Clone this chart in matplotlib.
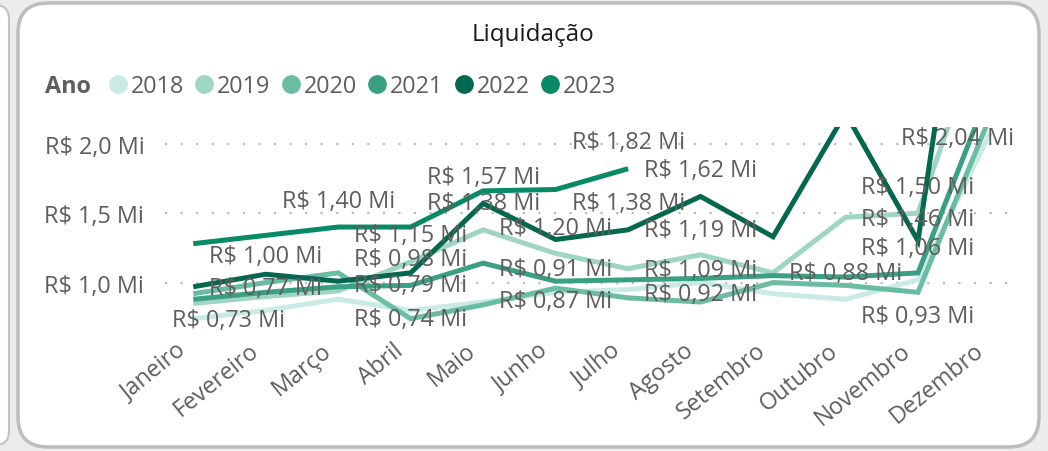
import numpy as np
import matplotlib
matplotlib.use('Agg')
import matplotlib.pyplot as plt
from matplotlib.lines import Line2D
from matplotlib.patches import FancyBboxPatch
from matplotlib.transforms import IdentityTransform, offset_copy

# data (R$ millions)
months = ['Janeiro', 'Fevereiro', 'Março', 'Abril', 'Maio', 'Junho', 'Julho',
          'Agosto', 'Setembro', 'Outubro', 'Novembro', 'Dezembro']
years  = ['2018', '2019', '2020', '2021', '2022', '2023']

v2018 = [0.74, 0.80, 0.88, 0.80, 0.86, 0.93, 0.95, 1.00, 0.92, 0.88, 1.02, 2.08]
v2019 = [0.85, 0.90, 0.94, 1.15, 1.38, 1.21, 1.10, 1.20, 1.07, 1.47, 1.50, 3.00]
v2020 = [0.92, 1.00, 1.07, 0.74, 0.84, 0.96, 0.89, 0.86, 1.00, 0.98, 0.93, 2.20]
v2021 = [0.88, 0.93, 0.97, 0.98, 1.14, 1.01, 1.02, 1.03, 1.05, 1.04, 1.07, 2.40]
v2022 = [0.97, 1.06, 1.01, 1.07, 1.57, 1.31, 1.38, 1.62, 1.33, 2.22, 1.30, 4.80]
v2023 = [1.28, 1.34, 1.40, 1.40, 1.66, 1.67, 1.82]

# data labels shown on the chart: month index, value, placement
labelMonth = [0, 1, 1, 2, 3, 3, 3, 3, 4, 4, 5, 5, 5, 6, 6, 7, 7, 7, 7, 9, 10, 10, 10, 10, 11]
labelValue = [0.73, 1.00, 0.77, 1.40, 1.15, 0.98, 0.79, 0.74, 1.57, 1.38, 1.20, 0.91, 0.87,
              1.82, 1.38, 1.62, 1.19, 1.09, 0.92, 0.88, 1.50, 1.46, 1.06, 0.93, 2.04]
labelPlace = ['c', 'a', 'a', 'a', 'a', 'a', 'a', 'c', 'a', 'a', 'a', 'a', 'c',
              'a', 'a', 'a', 'a', 'c', 'c', 'a', 'a', 'c', 'a', 'b', 'c']

yTicks = [1.0, 1.5, 2.0]

series = [v2018, v2019, v2020, v2021, v2022, v2023]
colors = ['#C9EAE7', '#9FD5C3', '#6ABCA3', '#3AA085', '#04674F', '#078A68']

greyTxt  = '#605E5C'
fontFam  = ['Open Sans', 'DejaVu Sans']
fontSZ   = 16.8
lineWgt  = 3.6

plt.rcParams['font.family'] = fontFam

fig = plt.figure(figsize=(10.48, 4.52), dpi=100)
fig.patch.set_facecolor('#ECECEC')

# card backgrounds (pixel coords)
fig.patches.append(FancyBboxPatch((-40, 6), 49, 440, boxstyle='round,pad=0,rounding_size=14',
                                  transform=IdentityTransform(), facecolor='white',
                                  edgecolor='#C4C4C4', linewidth=1.5, zorder=-10))
fig.patches.append(FancyBboxPatch((18, 4), 1021, 444, boxstyle='round,pad=0,rounding_size=30',
                                  transform=IdentityTransform(), facecolor='white',
                                  edgecolor='#BDBDBD', linewidth=2.5, zorder=-10))

ax = fig.add_axes([165/1048., 1-335/452., (1018-165)/1048., (335-128)/452.])
ax.set_facecolor('none')
ax.set_zorder(1)

x = np.arange(len(months))
for vals, col in zip(series, colors):
    ax.plot(x[:len(vals)], vals, color=col, linewidth=lineWgt, solid_joinstyle='miter',
            solid_capstyle='butt', zorder=2)

ax.set_xlim(-0.39, 11.38)
ax.set_ylim(0.63, 2.12)

for sp in ax.spines.values():
    sp.set_visible(False)

ax.set_yticks(yTicks)
ax.set_yticklabels(['R$ %s Mi' % ('%.1f' % t).replace('.', ',') for t in yTicks])
ax.tick_params(axis='y', length=0, pad=15, labelsize=fontSZ, labelcolor=greyTxt)
ax.yaxis.grid(True, color='#BDBBB9', linestyle=(0, (1, 6)), linewidth=1.6)
ax.set_axisbelow(True)

ax.set_xticks(x)
ax.set_xticklabels(months)
ax.tick_params(axis='x', length=0, pad=6, labelsize=fontSZ, labelcolor=greyTxt)
for lbl in ax.get_xticklabels():
    lbl.set_rotation(39)
    lbl.set_ha('right')
    lbl.set_va('center')
    lbl.set_rotation_mode('anchor')
    lbl.set_transform(offset_copy(lbl.get_transform(), fig=fig, x=-10, y=-5, units='dots'))

# data labels
offs = {'a': 19, 'c': 0, 'b': -17}
lo, hi = ax.get_xlim()
for m, v, p in zip(labelMonth, labelValue, labelPlace):
    txt = 'R$ %s Mi' % ('%.2f' % v).replace('.', ',')
    xpos, ha, dx = m, 'center', 0
    if m == 0:
        xpos, ha, dx = lo, 'left', 5
    elif m == len(months) - 1:
        xpos, ha, dx = hi, 'right', -3
    ax.annotate(txt, xy=(xpos, v), xytext=(dx, offs[p]), textcoords='offset points',
                ha=ha, va='center', fontsize=fontSZ, color=greyTxt, zorder=5,
                annotation_clip=False)

# title
fig.text(533/1048., 1-35/452., 'Liquidação', ha='center', va='center',
         fontsize=17.5, color='#1B1A19')

# legend
fig.text(45/1048., 1-87/452., 'Ano', ha='left', va='center', fontsize=fontSZ,
         fontweight='bold', color=greyTxt)
handles = [Line2D([], [], linestyle='none', marker='o', markersize=12.5,
                  markerfacecolor=c, markeredgecolor=c) for c in colors]
fig.legend(handles, years, loc='center left', bbox_to_anchor=(108/1048., 1-87/452.),
           ncol=6, frameon=False, handlelength=0.85, handletextpad=0.12,
           columnspacing=0.45, borderpad=0, borderaxespad=0, labelcolor=greyTxt,
           prop={'size': fontSZ})

plt.savefig('out.png', dpi=100, facecolor=fig.get_facecolor())
